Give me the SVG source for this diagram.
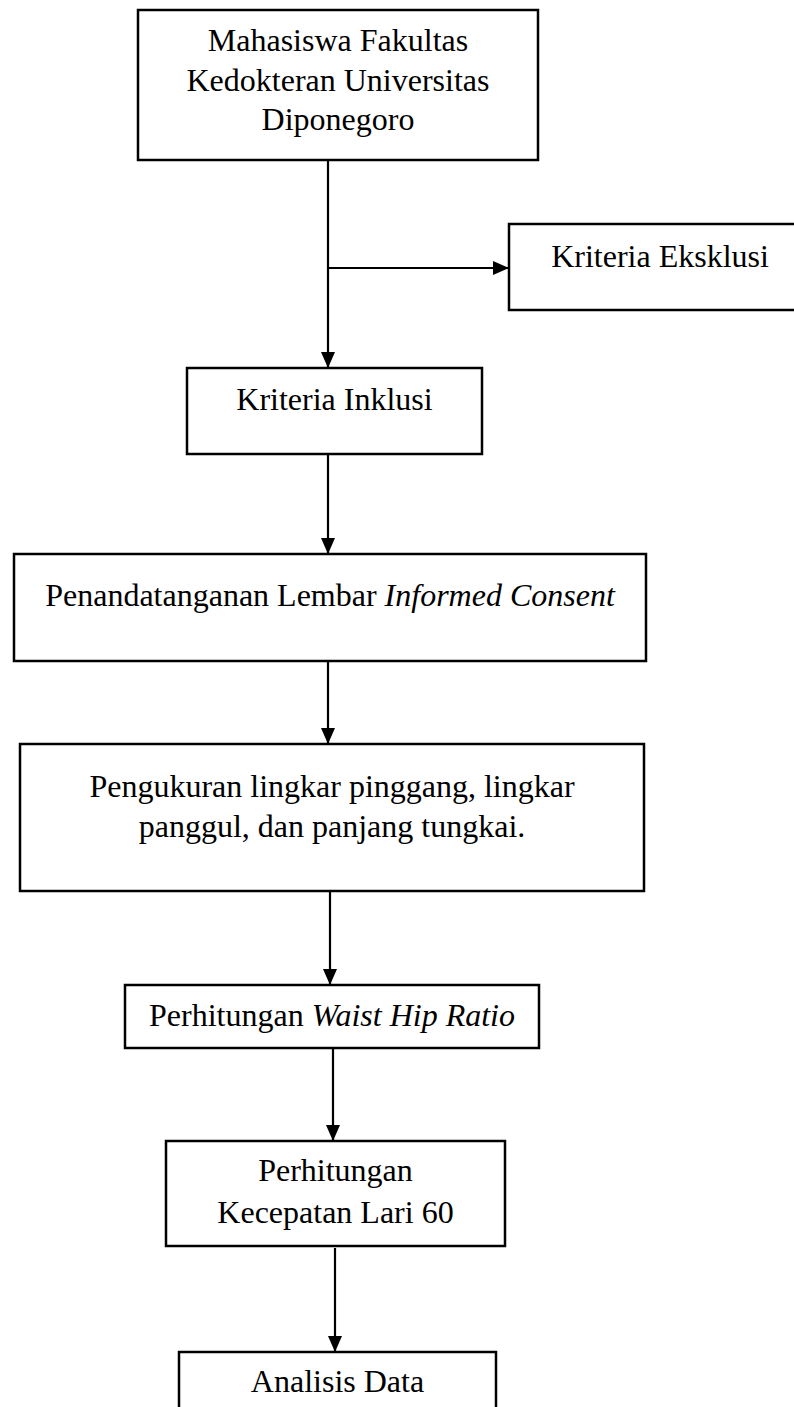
<svg xmlns="http://www.w3.org/2000/svg" width="794" height="1407" viewBox="0 0 794 1407">
<style>
.box{fill:#fff;stroke:#000;stroke-width:2.5}
.t{font-family:"Liberation Serif","Times New Roman",serif;font-size:32px;fill:#000;text-anchor:middle}
.i{font-style:italic}
.c{fill:none;stroke:#000;stroke-width:2.2}
</style>
<defs>
<marker id="ah" markerUnits="userSpaceOnUse" markerWidth="16" markerHeight="14" viewBox="0 0 16 14" refX="16" refY="7" orient="auto">
<path d="M0,0 L16,7 L0,14 Z" fill="#000"/>
</marker>
</defs>
<rect width="794" height="1407" fill="#fff"/>
<g id="connectors">
<line class="c" x1="328" y1="160" x2="328" y2="368" marker-end="url(#ah)"/>
<line class="c" x1="328" y1="268" x2="509" y2="268" marker-end="url(#ah)"/>
<line class="c" x1="328" y1="454" x2="328" y2="554" marker-end="url(#ah)"/>
<line class="c" x1="328" y1="661" x2="328" y2="744" marker-end="url(#ah)"/>
<line class="c" x1="330" y1="891" x2="330" y2="985" marker-end="url(#ah)"/>
<line class="c" x1="333" y1="1048" x2="333" y2="1141" marker-end="url(#ah)"/>
<line class="c" x1="335" y1="1248" x2="335" y2="1352" marker-end="url(#ah)"/>
</g>
<g id="n1">
<rect class="box" x="138" y="10" width="400" height="150"/>
<text class="t" x="338" y="51">Mahasiswa Fakultas</text>
<text class="t" x="338" y="91">Kedokteran Universitas</text>
<text class="t" x="338" y="130">Diponegoro</text>
</g>
<g id="n2">
<rect class="box" x="509" y="224" width="310" height="86"/>
<text class="t" x="660" y="267">Kriteria Eksklusi</text>
</g>
<g id="n3">
<rect class="box" x="187" y="368" width="295" height="86"/>
<text class="t" x="334.5" y="410">Kriteria Inklusi</text>
</g>
<g id="n4">
<rect class="box" x="14" y="554" width="632" height="107"/>
<text class="t" x="330" y="606">Penandatanganan Lembar <tspan class="i">Informed Consent</tspan></text>
</g>
<g id="n5">
<rect class="box" x="20" y="744" width="624" height="147"/>
<text class="t" x="332" y="797">Pengukuran lingkar pinggang, lingkar</text>
<text class="t" x="332" y="837">panggul, dan panjang tungkai.</text>
</g>
<g id="n6">
<rect class="box" x="125" y="985" width="414" height="63"/>
<text class="t" x="332" y="1026">Perhitungan <tspan class="i">Waist Hip Ratio</tspan></text>
</g>
<g id="n7">
<rect class="box" x="166" y="1141" width="339" height="105"/>
<text class="t" x="335.5" y="1181">Perhitungan</text>
<text class="t" x="335.5" y="1223">Kecepatan Lari 60</text>
</g>
<g id="n8">
<rect class="box" x="179" y="1352" width="317" height="80"/>
<text class="t" x="337.5" y="1392">Analisis Data</text>
</g>
</svg>
